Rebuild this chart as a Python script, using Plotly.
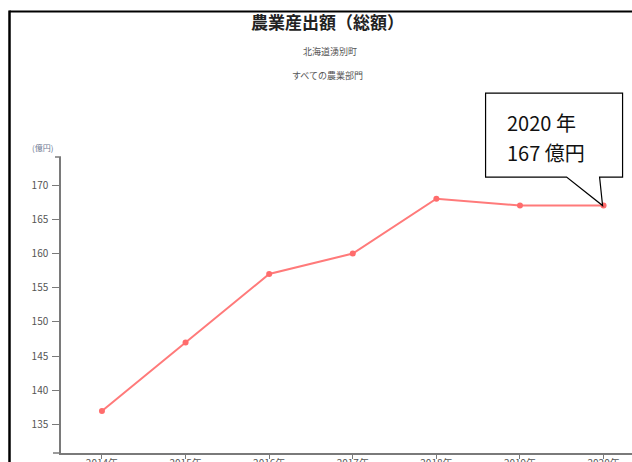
import plotly.graph_objects as go

years = [2014, 2015, 2016, 2017, 2018, 2019, 2020]
values = [137, 147, 157, 160, 168, 167, 167]
tick_labels = [f"{y}年" for y in years]
y_ticks = [135, 140, 145, 150, 155, 160, 165, 170]

title = "農業産出額（総額）"
subtitle1 = "北海道湧別町"
subtitle2 = "すべての農業部門"
unit_label = "(億円)"
callout_line1 = "2020 年"
callout_line2 = "167 億円"

W, H = 632, 462
ML, MR, MT, MB = 61, 0, 157, 9
PW = W - ML - MR
PH = H - MT - MB
XR = [2013.51, 2020.34]
YR = [130.87, 174.09]

def px(xp):
    return (xp - ML) / PW

def py(yp):
    return (H - MB - yp) / PH

FONT = "Noto Sans CJK JP"
line_color = "#ff7a7a"

fig = go.Figure()
fig.add_trace(go.Scatter(
    x=years, y=values, mode="lines+markers",
    line=dict(color=line_color, width=2),
    marker=dict(color="#ff6c6c", size=6),
    hoverinfo="x+y", showlegend=False,
))

axis_col = "#7a7a7a"
fig.update_layout(
    width=W, height=H,
    margin=dict(l=ML, r=MR, t=MT, b=MB, pad=0, autoexpand=False),
    paper_bgcolor="white", plot_bgcolor="white",
    font=dict(family=FONT, color="#444"),
    xaxis=dict(
        range=XR, tickvals=years, ticktext=tick_labels, automargin=False,
        showgrid=False, zeroline=False, showline=True, linecolor=axis_col, linewidth=1.5,
        ticks="outside", ticklen=4, tickcolor=axis_col, tickwidth=1.2,
        tickfont=dict(size=10, color="#555"), ticklabelstandoff=-4,
    ),
    yaxis=dict(
        range=YR, tickvals=y_ticks, automargin=False,
        showgrid=False, zeroline=False, showline=True, linecolor=axis_col, linewidth=1.5,
        ticks="outside", ticklen=7, tickcolor=axis_col, tickwidth=1.2,
        tickfont=dict(size=10, color="#555"), ticklabelstandoff=2,
    ),
)

# anchor of the callout (the last data point) in paper units
ax_p = (years[-1] - XR[0]) / (XR[1] - XR[0])
ay_p = (values[-1] - YR[0]) / (YR[1] - YR[0])

shapes = []
shapes.append(dict(type="line", xref="paper", yref="paper", x0=px(55), x1=0, y0=1, y1=1,
                   line=dict(color=axis_col, width=1.5)))
shapes.append(dict(type="line", xref="paper", yref="paper", x0=px(53), x1=0, y0=0, y1=0,
                   line=dict(color=axis_col, width=1.5)))
shapes.append(dict(type="line", xref="paper", yref="paper", x0=px(9.5), x1=1.01, y0=py(11.5), y1=py(11.5),
                   line=dict(color="black", width=2.2)))
shapes.append(dict(type="line", xref="paper", yref="paper", x0=px(9.5), x1=px(9.5), y0=py(10.5), y1=py(470),
                   line=dict(color="black", width=2.5)))
shapes.append(dict(
    type="path", xref="paper", yref="paper", xsizemode="pixel", ysizemode="pixel",
    xanchor=ax_p, yanchor=ay_p,
    path="M -118,28.5 L -37,28.5 L -1,0 L -4,28.5 L 19,28.5 L 19,112.5 L -118,112.5 Z",
    line=dict(color="black", width=1.2), fillcolor="white", layer="above",
))
fig.update_layout(shapes=shapes)

annotations = [
    dict(text=f"<b>{title}</b>", xref="paper", yref="paper", x=px(327), y=py(22),
         xanchor="center", yanchor="middle", showarrow=False,
         font=dict(size=17, color="#222", family=FONT)),
    dict(text=subtitle1, xref="paper", yref="paper", x=px(330), y=py(51),
         xanchor="center", yanchor="middle", showarrow=False,
         font=dict(size=9, color="#555", family=FONT)),
    dict(text=subtitle2, xref="paper", yref="paper", x=px(327), y=py(76),
         xanchor="center", yanchor="middle", showarrow=False,
         font=dict(size=9, color="#555", family=FONT)),
    dict(text=unit_label, xref="paper", yref="paper", x=px(42), y=py(147),
         xanchor="center", yanchor="middle", showarrow=False,
         font=dict(size=8, color="#6a7590", family=FONT)),
    dict(text=callout_line1, xref="x", yref="y", x=years[-1], y=values[-1],
         xanchor="left", yanchor="middle", xshift=-99, yshift=83.5, showarrow=False,
         font=dict(size=20, color="#111", family=FONT)),
    dict(text=callout_line2, xref="x", yref="y", x=years[-1], y=values[-1],
         xanchor="left", yanchor="middle", xshift=-99, yshift=53.5, showarrow=False,
         font=dict(size=20, color="#111", family=FONT)),
]
fig.update_layout(annotations=annotations)

fig.write_html("out.html", config={"displayModeBar": False},
               post_script="document.body.style.margin='0px';")
